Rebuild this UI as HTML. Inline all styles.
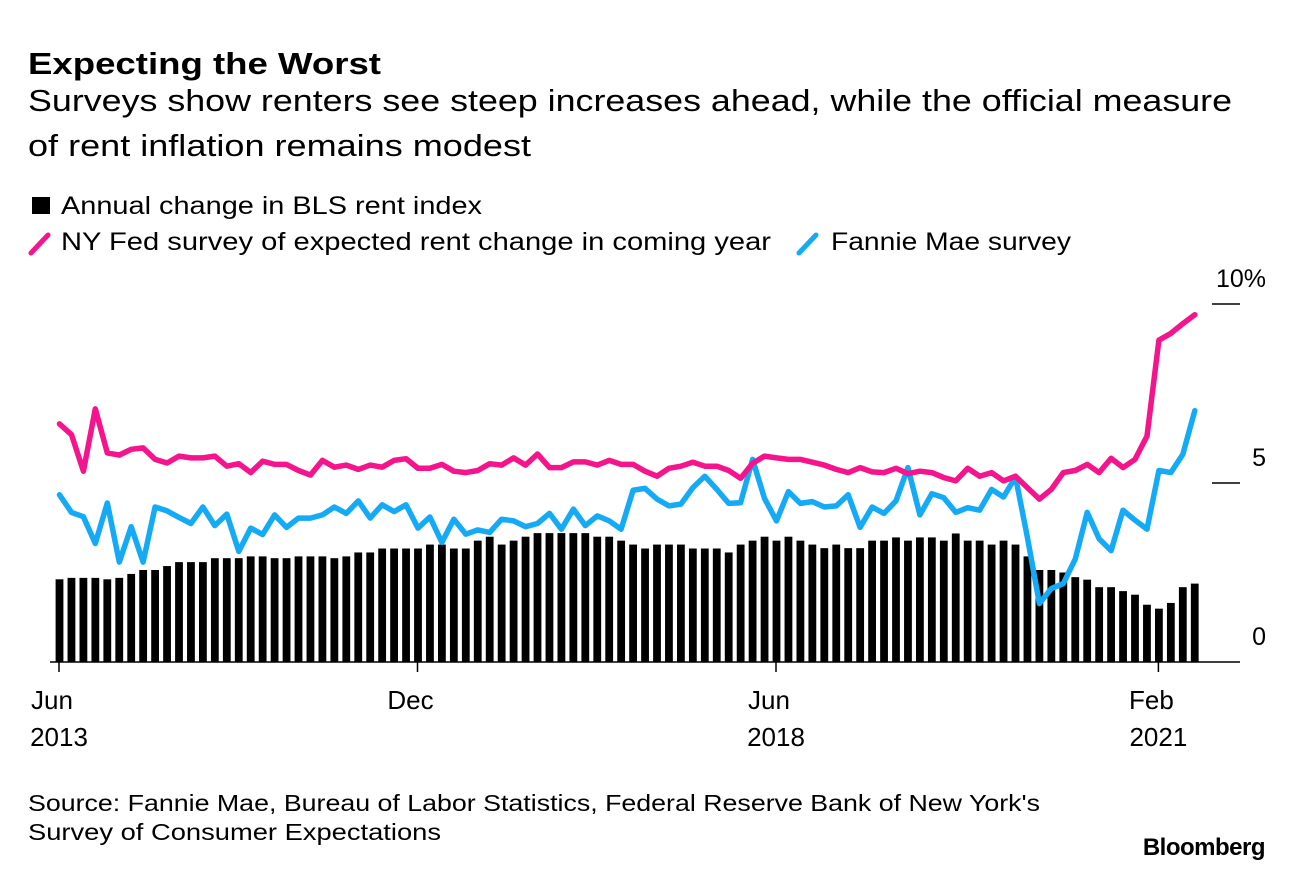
<!DOCTYPE html>
<html><head><meta charset="utf-8">
<style>
body{margin:0;background:#fff;width:1293px;height:872px;overflow:hidden;font-family:"Liberation Sans",Arial,sans-serif;}
svg text{font-family:"Liberation Sans",Arial,sans-serif;fill:#000;}
</style></head>
<body>
<svg id="chart" width="1293" height="872" viewBox="0 0 1293 872" xmlns="http://www.w3.org/2000/svg">
<text x="28" y="74" font-size="31" font-weight="bold" textLength="353" lengthAdjust="spacingAndGlyphs">Expecting the Worst</text>
<text x="28" y="111" font-size="31" textLength="1204" lengthAdjust="spacingAndGlyphs">Surveys show renters see steep increases ahead, while the official measure</text>
<text x="28" y="156" font-size="31" textLength="503" lengthAdjust="spacingAndGlyphs">of rent inflation remains modest</text>
<g>
<rect x="32" y="197" width="18" height="17" fill="#000"/>
<text x="61" y="214" font-size="25" textLength="421" lengthAdjust="spacingAndGlyphs">Annual change in BLS rent index</text>
<line x1="31" y1="253" x2="48" y2="235" stroke="#f5148c" stroke-width="5" stroke-linecap="round"/>
<text x="61" y="250" font-size="25" textLength="710" lengthAdjust="spacingAndGlyphs">NY Fed survey of expected rent change in coming year</text>
<line x1="799" y1="253" x2="816" y2="235" stroke="#14aaf5" stroke-width="5" stroke-linecap="round"/>
<text x="831" y="250" font-size="25" textLength="240" lengthAdjust="spacingAndGlyphs">Fannie Mae survey</text>
</g>
<g id="plot"></g>
<text x="28" y="811" font-size="23" textLength="1012" lengthAdjust="spacingAndGlyphs">Source: Fannie Mae, Bureau of Labor Statistics, Federal Reserve Bank of New York's</text>
<text x="28" y="840" font-size="23" textLength="413" lengthAdjust="spacingAndGlyphs">Survey of Consumer Expectations</text>
<text x="1265" y="855" font-size="24" font-weight="bold" text-anchor="end" letter-spacing="-0.5">Bloomberg</text>
</svg>
<script>
const blsValues = [2.31,2.35,2.35,2.35,2.31,2.35,2.46,2.57,2.57,2.68,2.79,2.79,2.79,2.90,2.90,2.90,2.95,2.95,2.90,2.90,2.95,2.95,2.95,2.90,2.95,3.06,3.06,3.17,3.17,3.17,3.17,3.28,3.28,3.17,3.17,3.39,3.50,3.28,3.39,3.50,3.60,3.60,3.60,3.60,3.60,3.50,3.50,3.39,3.28,3.17,3.28,3.28,3.28,3.17,3.17,3.17,3.06,3.28,3.39,3.50,3.39,3.50,3.39,3.28,3.18,3.28,3.18,3.18,3.39,3.39,3.48,3.39,3.48,3.48,3.39,3.59,3.39,3.39,3.28,3.39,3.28,2.95,2.57,2.57,2.50,2.37,2.30,2.09,2.09,1.98,1.88,1.60,1.49,1.65,2.09,2.19];
const nyFedValues = [6.65,6.35,5.33,7.07,5.84,5.78,5.94,5.98,5.66,5.56,5.75,5.70,5.70,5.75,5.47,5.54,5.29,5.61,5.52,5.52,5.35,5.22,5.63,5.44,5.50,5.38,5.50,5.44,5.63,5.68,5.41,5.41,5.52,5.33,5.29,5.35,5.54,5.50,5.70,5.50,5.81,5.43,5.43,5.59,5.59,5.50,5.63,5.52,5.52,5.33,5.19,5.41,5.47,5.58,5.47,5.47,5.35,5.13,5.55,5.75,5.70,5.66,5.66,5.58,5.50,5.38,5.29,5.43,5.31,5.29,5.41,5.26,5.33,5.29,5.15,5.06,5.41,5.19,5.29,5.06,5.19,4.87,4.55,4.82,5.29,5.35,5.52,5.29,5.69,5.43,5.66,6.31,8.99,9.18,9.45,9.70];
const fannieValues = [4.67,4.18,4.06,3.31,4.44,2.79,3.78,2.79,4.33,4.22,4.04,3.87,4.33,3.81,4.13,3.09,3.74,3.56,4.11,3.76,4.02,4.02,4.11,4.33,4.15,4.50,4.02,4.39,4.20,4.39,3.74,4.05,3.34,3.99,3.57,3.69,3.62,3.99,3.94,3.78,3.87,4.15,3.71,4.27,3.81,4.08,3.94,3.71,4.80,4.85,4.55,4.36,4.41,4.87,5.19,4.82,4.43,4.45,5.66,4.57,3.94,4.76,4.43,4.48,4.33,4.36,4.67,3.76,4.33,4.15,4.50,5.43,4.11,4.70,4.59,4.18,4.31,4.24,4.82,4.61,5.17,3.48,1.63,2.05,2.19,2.88,4.18,3.44,3.11,4.24,3.96,3.71,5.35,5.29,5.80,7.02];
const yTickValues = [0,5,10];
const yTickLabels = ["0","5","10%"];
const xTickIndices = [0,30,60,92];
const xTickLine1 = ["Jun","Dec","Jun","Feb"];
const xTickLine2 = ["2013","","2018","2021"];

const NS="http://www.w3.org/2000/svg";
const plot=document.getElementById('plot');
const x0=59.5, dx=11.95, y0=662, dy=35.8;
function xScale(i){return x0+dx*i;}
function yScale(v){return y0-dy*v;}
function mk(tag,attrs){const e=document.createElementNS(NS,tag);for(const k in attrs)e.setAttribute(k,attrs[k]);plot.appendChild(e);return e;}

blsValues.forEach((v,i)=>{
  const r=mk('rect',{x:xScale(i)-3.9,y:yScale(v),width:7.8,height:y0-yScale(v),fill:'#000'});
  
  
});
yTickValues.forEach((v,i)=>{
  if(v!==0){
    const l=mk('line',{x1:1212,x2:1240,y1:yScale(v),y2:yScale(v),stroke:'#000','stroke-width':1.5});
    
    
  }
  const t=mk('text',{x:1266,y:yScale(v)-17,'font-size':25,'text-anchor':'end'});
  t.textContent=yTickLabels[i];
  
  
});
const base=mk('line',{x1:50,x2:1240,y1:y0,y2:y0,stroke:'#000','stroke-width':1.5});


xTickIndices.forEach((k,i)=>{
  const x=xScale(k)-0.5;
  const l=mk('line',{x1:x,x2:x,y1:y0,y2:y0+10,stroke:'#000','stroke-width':1.5});
  
  
  const t1=mk('text',{x:x-7,y:709,'font-size':26,'text-anchor':'middle'});
  t1.textContent=xTickLine1[i];
  
  
  if(xTickLine2[i]){
    const t2=mk('text',{x:x,y:746,'font-size':26,'text-anchor':'middle'});
    t2.textContent=xTickLine2[i];
    
    
  }
});
function line(vals,color,name){
  const d=vals.map((v,i)=>(i?'L':'M')+xScale(i).toFixed(1)+','+yScale(v).toFixed(1)).join('');
  const p=mk('path',{d:d,fill:'none',stroke:color,'stroke-width':5.5,'stroke-linejoin':'round','stroke-linecap':'round'});
  
  
}
line(fannieValues,'#14aaf5','fannie-mae-line');
line(nyFedValues,'#f5148c','nyfed-line');
</script>
</body></html>
